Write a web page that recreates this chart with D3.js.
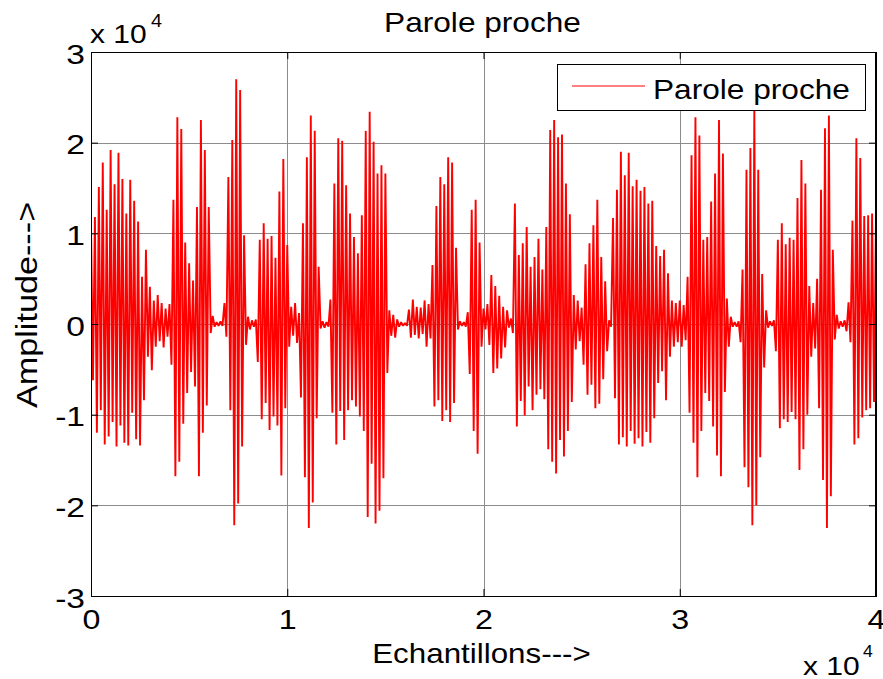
<!DOCTYPE html>
<html>
<head>
<meta charset="utf-8">
<script src="https://cdn.jsdelivr.net/npm/d3@7"></script>
<style>
  body { margin: 0; background: #fff; }
  svg { display: block; font-family: "Liberation Sans", Arial, Helvetica, sans-serif; }
</style>
</head>
<body>
<svg id="chart" width="883" height="679"></svg>
<script>
// ---- data ----
const titleText = "Parole proche";
const seriesName = "Parole proche";
const xLabelText = "Echantillons--->";
const yLabelText = "Amplitude--->";
const xTickValues = [0, 10000, 20000, 30000, 40000];
const xTickLabels = ["0", "1", "2", "3", "4"];
const yTickValues = [-30000, -20000, -10000, 0, 10000, 20000, 30000];
const yTickLabels = ["-3", "-2", "-1", "0", "1", "2", "3"];
const exponentBase = "x 10";
const exponentPower = "4";

// speech signal, one value every `sampleStep` samples (alternating peaks)
const sampleStep = 100;
const amplitude = [
  10900, -6200, 11800, -12000, 15100, -9500, 17800, -13300, 12600, -12400,
  19200, -10800, 15400, -13500, 18900, -11200, 16000, -13100, 12200, -13400,
  15900, -9800, 13600, -12700, 11300, -13400,
  5200, -8400, 8200, -3600, 4100, -5100, 2600, -2500, 3200, -1900, 2300, -2600, 1700, -1400, 2200,
  -4500, 13700, -16800, 22800, -15200, 21500, -11000, 9000,
  -7600, 6700, -5300, 4800, -6900,
  12900, -16800, 22500, -12000, 19200, -9000, 12900,
  -1000, 900, -300, 200, -200, 300, -200,
  2300, -1400,
  16200, -9500, 20300, -22200, 27000, -19800, 25800, -13500, 9800,
  -2300, 800, -600, 400, -300, 500,
  -4200, 9300, -10500, 11100, -8700, 9400, -11700, 9700, -10200, 7300, -11200, 14600, -16700, 18200, -9300, 8700,
  -2500, 1900, -1300, 2300, -2100, 1200,
  -8100, 11100, -16900, 18400, -22500, 23000, -19700, 21300, -10400, 6300,
  -500, 300, -400, 200, -300,
  2700, -9800, 15500, -13300, 20500, -9600, 20200, -12800,
  15300, -9500, 12200, -8400, 9600, -9100, 7800, -10200,
  12000, -11800, 21300, -21300, 23400, -15400, 20100, -22000, 16600, -20600, 17500, -17000, 16600,
  -5400,
  1500, -1300, 1000, -1500, 500, -300, 200, -200, 100, -200,
  1600, -1500, 2700, -1200, 1900, -1600, 1800, -1100, 2600, -2500, 2200, -1600,
  6500, -9100, 13000, -8400, 16200, -10700, 15400, -9500, 18400, -10800, 17800, -8700, 8400,
  -600, 300, -200, 200, -300, 1300,
  -5500, 12600, -11800, 13700, -14300, 9000,
  -2500, 1700, -600,
  2200, -2300, 5400, -5400, 4200, -4900, 3100, -3800, 1900, -2600, 1500,
  -400, 600, -1000,
  13300, -11300, 7600, -8500, 8900, -10100, 10700, -6900, 6300, -9500, 7400, -7800, 9400, -7200, 6000, -8300, 10700,
  -13800, 21400, -15200, 22500, -16500, 20600, -12800, 20900, -14600, 15500, -11800, 12100, -8600,
  3200, -2800, 2600, -1900, 1800,
  -4500, 6600, -7800, 8900, -6700, 10900, -9300, 13700, -8800, 7400, -6100, 4700, -3000,
  400, -300,
  11700, -8200, 14800, -13300, 19000, -12500, 16400, -13500, 18900, -11800, 15200, -13200, 15900, -12600,
  14700, -13500, 15100, -11900, 13300, -13100, 13600, -10400, 8600,
  -6500, 7500, -5200, 8200, -8400, 5600, -3600, 2600, -2500, 2300, -2000, 2600, -2500, 2100, -1800,
  5200, -9800, 18600, -13100, 22800, -16900, 20800, -11800, 9300,
  -7600, 9600,
  -8500, 13500, -11300, 16600, -14500, 22500, -16800, 18800, -7500,
  2800, -2500, 800, -300, 200, -300, 300,
  -2000, 6000, -15800, 17000, -18000, 19400, -22200, 23600, -20000, 17000, -14700, 5500, -4800,
  1500, -400, 300, -200, 400,
  -3000, 9300, -11500, 11100, -10500, 8800, -10800, 9500, -9700, 9300, -10500, 13900, -16100, 18100, -13800, 15500, -10000,
  4200, -3600, 2300, -2700,
  5000, -9300, 14800, -17200, 21600, -22500, 23000, -19000, 8200,
  -1700, 1000, -500, 300, -300, 400, -800,
  2400, -2000, 11400, -13300, 20500, -12600, 18300, -10300, 11900, -9500, 12000, -9300, 12200, -8600, 11500
];

// ---- layout ----
const W = 883, H = 679;
const margin = { left: 91, right: 7, top: 52, bottom: 83 };
const svg = d3.select("#chart");

const x = d3.scaleLinear().domain([0, 40000]).range([margin.left, W - margin.right]);
const y = d3.scaleLinear().domain([-30000, 30000]).range([H - margin.bottom, margin.top]);
const [x0, x1] = x.range();
const [yb, yt] = y.range();

// text with a slightly wider glyph shape
function label(sel, tx, ty, str, size, anchor, sx, rot) {
  return sel.append("text")
    .attr("transform", `translate(${tx},${ty})` + (rot ? ` rotate(${rot})` : "") + ` scale(${sx},1)`)
    .attr("text-anchor", anchor)
    .attr("font-size", size)
    .attr("fill", "#000")
    .text(str);
}

// ---- grid ----
const gridColor = "#8c8c8c";
svg.append("g")
  .attr("transform", `translate(0,${yb})`)
  .call(d3.axisBottom(x).tickValues(xTickValues).tickSize(-(yb - yt)).tickFormat(""))
  .call(g => g.select(".domain").remove())
  .selectAll("line").attr("stroke", gridColor).attr("shape-rendering", "crispEdges");
svg.append("g")
  .attr("transform", `translate(${x0},0)`)
  .call(d3.axisLeft(y).tickValues(yTickValues).tickSize(-(x1 - x0)).tickFormat(""))
  .call(g => g.select(".domain").remove())
  .selectAll("line").attr("stroke", gridColor).attr("shape-rendering", "crispEdges");

// ---- waveform ----
svg.append("clipPath").attr("id", "plotClip")
  .append("rect").attr("x", x0).attr("y", yt).attr("width", x1 - x0).attr("height", yb - yt);

const line = d3.line()
  .x((d, i) => x(i * sampleStep))
  .y(d => y(d));

svg.append("path")
  .datum(amplitude)
  .attr("clip-path", "url(#plotClip)")
  .attr("fill", "none")
  .attr("stroke", "#ff0000")
  .attr("stroke-width", 1.9)
  .attr("stroke-linejoin", "miter")
  .attr("stroke-miterlimit", 1)
  .attr("d", line);

// ---- axes ----
const gx = svg.append("g").attr("transform", `translate(0,${yb})`)
  .call(d3.axisBottom(x).tickValues(xTickValues).tickFormat((d, i) => xTickLabels[i])
    .tickSizeInner(-7).tickSizeOuter(0));
gx.attr("font-size", 28).attr("font-family", null);
gx.select(".domain").remove();
gx.selectAll(".tick line").attr("stroke", "#000");
gx.selectAll(".tick text").attr("y", 0).attr("dy", 0)
  .attr("transform", "translate(0,33) scale(1.15,1)").attr("fill", "#000");

const gy = svg.append("g").attr("transform", `translate(${x0},0)`)
  .call(d3.axisLeft(y).tickValues(yTickValues).tickFormat((d, i) => yTickLabels[i])
    .tickSizeInner(-7).tickSizeOuter(0));
gy.attr("font-size", 28).attr("font-family", null);
gy.select(".domain").remove();
gy.selectAll(".tick line").attr("stroke", "#000");
gy.selectAll(".tick text").attr("x", 0).attr("dy", 0)
  .attr("transform", "translate(-6,11) scale(1.2,1)").attr("fill", "#000");

const gTop = svg.append("g").attr("transform", `translate(0,${yt})`)
  .call(d3.axisTop(x).tickValues(xTickValues).tickFormat("").tickSizeInner(-7).tickSizeOuter(0));
gTop.select(".domain").remove();
gTop.selectAll(".tick line").attr("stroke", "#000");

const gRight = svg.append("g").attr("transform", `translate(${x1},0)`)
  .call(d3.axisRight(y).tickValues(yTickValues).tickFormat("").tickSizeInner(-7).tickSizeOuter(0));
gRight.select(".domain").remove();
gRight.selectAll(".tick line").attr("stroke", "#000");

// axes box
svg.append("rect")
  .attr("x", x0).attr("y", yt).attr("width", x1 - x0).attr("height", yb - yt)
  .attr("fill", "none").attr("stroke", "#000").attr("stroke-width", 1)
  .attr("shape-rendering", "crispEdges");
svg.append("line")
  .attr("x1", x1).attr("x2", x1).attr("y1", yt).attr("y2", yb)
  .attr("stroke", "#000").attr("stroke-width", 2);

// ---- exponent labels ----
label(svg, 90, 43, exponentBase, 25, "start", 1.2);
label(svg, 151, 27, exponentPower, 18, "start", 1.1);
label(svg, 803, 675, exponentBase, 25, "start", 1.2);
label(svg, 863, 657, exponentPower, 16, "start", 1.1);

// ---- titles ----
label(svg, (x0 + x1) / 2 - 1, 32, titleText, 28, "middle", 1.13);
label(svg, (x0 + x1) / 2 - 2, 663, xLabelText, 28, "middle", 1.12);
label(svg, 37, 305, yLabelText, 29, "middle", 1.18, -90);

// ---- legend ----
const lg = svg.append("g");
lg.append("rect")
  .attr("x", 557).attr("y", 64).attr("width", 308).attr("height", 46)
  .attr("fill", "#fff").attr("stroke", "#000").attr("stroke-width", 1)
  .attr("shape-rendering", "crispEdges");
lg.append("line")
  .attr("x1", 572).attr("x2", 645).attr("y1", 86).attr("y2", 86)
  .attr("stroke", "#ff0000").attr("stroke-width", 1);
label(lg, 653, 99, seriesName, 28, "start", 1.13);
</script>
</body>
</html>
